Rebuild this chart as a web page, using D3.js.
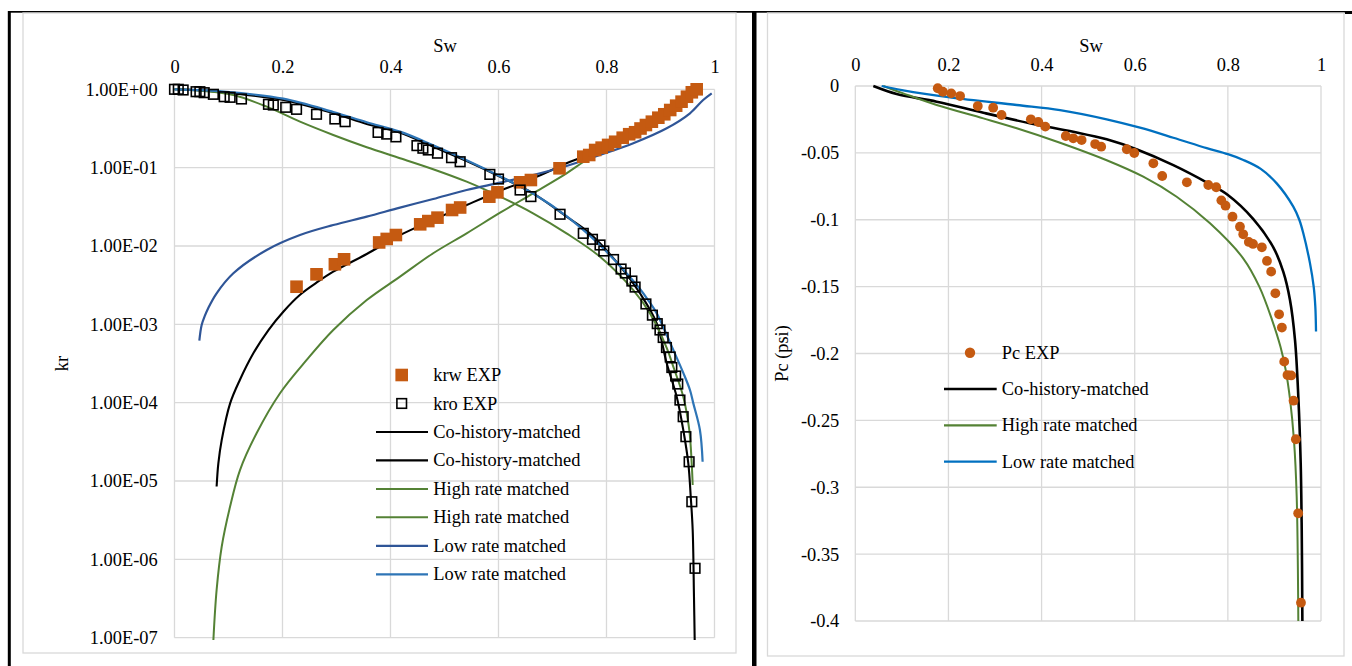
<!DOCTYPE html>
<html>
<head>
<meta charset="utf-8">
<script src="https://cdn.jsdelivr.net/npm/d3@7"></script>
<style>
  html, body { margin: 0; padding: 0; background: #fff; }
  svg { display: block; }
  text { font-family: "Liberation Serif", "Times New Roman", serif; font-size: 18.4px; fill: #000; }
</style>
</head>
<body>
<svg id="fig" width="1352" height="666"></svg>
<script>
// ---------- Relative permeability (left panel) ----------
const swTicks = [0, 0.2, 0.4, 0.6, 0.8, 1];
const swTickLabels = ["0", "0.2", "0.4", "0.6", "0.8", "1"];
const krTicks = [1, 1e-1, 1e-2, 1e-3, 1e-4, 1e-5, 1e-6, 1e-7];
const krTickLabels = ["1.00E+00", "1.00E-01", "1.00E-02", "1.00E-03", "1.00E-04", "1.00E-05", "1.00E-06", "1.00E-07"];

const krwExpSw = [0.226, 0.263, 0.297, 0.314, 0.379, 0.393, 0.410, 0.455, 0.470, 0.487,
  0.514, 0.529, 0.583, 0.598, 0.640, 0.660, 0.713, 0.757, 0.768, 0.779,
  0.791, 0.803, 0.816, 0.830, 0.842, 0.853, 0.863, 0.873, 0.884, 0.896,
  0.907, 0.918, 0.929, 0.939, 0.949, 0.958, 0.967];
const krwExp = [3.02e-3, 4.35e-3, 5.84e-3, 6.76e-3, 1.11e-2, 1.23e-2, 1.38e-2, 1.89e-2, 2.08e-2, 2.30e-2,
  2.88e-2, 3.10e-2, 4.26e-2, 4.84e-2, 6.50e-2, 6.95e-2, 9.81e-2, 0.138, 0.145, 0.168,
  0.180, 0.195, 0.214, 0.241, 0.267, 0.283, 0.316, 0.350, 0.386, 0.434,
  0.480, 0.544, 0.618, 0.695, 0.804, 0.916, 1.0];

const kroExpSw = [0, 0.007, 0.016, 0.040, 0.047, 0.055, 0.072, 0.092, 0.103, 0.124,
  0.174, 0.183, 0.206, 0.226, 0.263, 0.297, 0.316, 0.377, 0.393, 0.410,
  0.449, 0.460, 0.470, 0.487, 0.513, 0.529, 0.584, 0.600, 0.640, 0.660,
  0.714, 0.757, 0.774, 0.788, 0.795, 0.813, 0.827, 0.835, 0.847, 0.853,
  0.873, 0.885, 0.894, 0.899, 0.905, 0.911, 0.918, 0.921, 0.928, 0.932,
  0.936, 0.942, 0.947, 0.953, 0.958, 0.964];
const kroExp = [1.0, 1.0, 0.98, 0.932, 0.932, 0.905, 0.863, 0.804, 0.790, 0.752,
  0.643, 0.630, 0.589, 0.555, 0.480, 0.418, 0.386, 0.282, 0.268, 0.247,
  0.191, 0.177, 0.168, 0.153, 0.134, 0.119, 0.082, 0.0716, 0.0518, 0.0427,
  0.0254, 0.0145, 0.01217, 0.0103, 0.00863, 0.00672, 0.00508, 0.00452, 0.00357, 0.00299,
  0.00182, 0.00131, 0.00102, 8.47e-4, 6.79e-4, 5.06e-4, 3.83e-4, 2.81e-4, 2.19e-4, 1.73e-4,
  1.08e-4, 6.62e-5, 3.68e-5, 1.76e-5, 5.44e-6, 7.69e-7];

// fitted curves, [Sw, kr]
const coKrw = [[0.078, 8.5e-6], [0.0812, 1.68e-5], [0.0874, 3.33e-5], [0.103, 9.8e-5], [0.121, 1.95e-4],
  [0.146, 4.27e-4], [0.174, 8.45e-4], [0.2015, 1.45e-3], [0.232, 2.37e-3], [0.263, 3.40e-3],
  [0.294, 4.70e-3], [0.356, 7.91e-3], [0.418, 1.38e-2], [0.479, 2.15e-2], [0.541, 3.33e-2],
  [0.603, 5.08e-2], [0.664, 7.31e-2], [0.726, 0.1135], [0.757, 0.138], [0.80, 0.19],
  [0.85, 0.28], [0.90, 0.44], [0.94, 0.70], [0.967, 1.0]];
const coKro = [[0, 1.0], [0.05, 0.97], [0.109, 0.889], [0.2015, 0.729], [0.294, 0.494], [0.356, 0.361],
  [0.418, 0.279], [0.479, 0.185], [0.541, 0.1216], [0.603, 0.0766], [0.664, 0.047], [0.726, 0.0237],
  [0.769, 0.0145], [0.831, 0.00493], [0.862, 0.00249], [0.893, 0.00103], [0.9115, 3.18e-4],
  [0.930, 1.19e-4], [0.9422, 4.48e-5], [0.9515, 1.68e-5], [0.956, 6.3e-6], [0.9596, 2.37e-6],
  [0.962, 3.33e-7], [0.9635, 7.9e-8]];
const highKrw = [[0.072, 9.3e-8], [0.078, 4.07e-7], [0.0874, 1.45e-6], [0.1028, 4.68e-6], [0.1213, 1.38e-5],
  [0.152, 4.07e-5], [0.1954, 1.32e-4], [0.2448, 3.51e-4], [0.294, 8.45e-4], [0.356, 2.04e-3],
  [0.4176, 4.06e-3], [0.479, 8.07e-3], [0.541, 1.45e-2], [0.603, 2.66e-2], [0.664, 4.70e-2],
  [0.726, 8.47e-2], [0.757, 0.118], [0.80, 0.18], [0.861, 0.33], [0.90, 0.47], [0.94, 0.72], [0.96, 0.93]];
const highKro = [[0, 1.0], [0.05, 0.955], [0.109, 0.845], [0.1707, 0.60], [0.2324, 0.386], [0.294, 0.261],
  [0.356, 0.182], [0.4176, 0.132], [0.479, 0.0955], [0.541, 0.0662], [0.603, 0.0426], [0.664, 0.0261],
  [0.726, 0.0145], [0.788, 7.29e-3], [0.8496, 2.74e-3], [0.8806, 1.38e-3], [0.9115, 5.0e-4],
  [0.9237, 2.88e-4], [0.9422, 1.19e-4], [0.9533, 4.48e-5], [0.9578, 1.68e-5], [0.9596, 8.9e-6]];
const lowKrw = [[0.046, 6.2e-4], [0.0503, 9.8e-4], [0.0565, 1.3e-3], [0.0626, 1.62e-3], [0.078, 2.49e-3], [0.109, 4.48e-3],
  [0.1707, 8.89e-3], [0.2324, 1.38e-2], [0.294, 1.85e-2], [0.356, 2.37e-2], [0.4176, 3.09e-2],
  [0.479, 3.98e-2], [0.541, 5.19e-2], [0.603, 6.43e-2], [0.664, 8.05e-2], [0.726, 0.105],
  [0.788, 0.145], [0.8496, 0.205], [0.9115, 0.318], [0.9546, 0.494], [0.979, 0.73], [0.9948, 0.889]];
const lowKro = [[0, 1.0], [0.05, 0.975], [0.109, 0.912], [0.2015, 0.759], [0.294, 0.513], [0.356, 0.380],
  [0.4176, 0.288], [0.479, 0.193], [0.541, 0.1245], [0.603, 0.0776], [0.664, 0.0468], [0.726, 0.024],
  [0.788, 0.0102], [0.831, 5.01e-3], [0.862, 2.82e-3], [0.877, 2.04e-3], [0.893, 1.38e-3],
  [0.9237, 4.7e-4], [0.9422, 2.4e-4], [0.9546, 1.45e-4], [0.9608, 9.8e-5], [0.973, 4.48e-5], [0.978, 1.76e-5]];

// ---------- Capillary pressure (right panel) ----------
const pcTicks = [0, -0.05, -0.1, -0.15, -0.2, -0.25, -0.3, -0.35, -0.4];
const pcTickLabels = ["0", "-0.05", "-0.1", "-0.15", "-0.2", "-0.25", "-0.3", "-0.35", "-0.4"];

const pcExpSw = [0.177, 0.188, 0.206, 0.225, 0.263, 0.296, 0.314, 0.377, 0.393, 0.408,
  0.452, 0.468, 0.486, 0.515, 0.528, 0.583, 0.599, 0.640, 0.659, 0.712,
  0.758, 0.775, 0.786, 0.795, 0.810, 0.826, 0.833, 0.845, 0.854, 0.873,
  0.884, 0.893, 0.902, 0.910, 0.916, 0.921, 0.928, 0.936, 0.941, 0.946,
  0.951, 0.957];
const pcExp = [-0.0017, -0.0043, -0.0055, -0.0075, -0.0150, -0.0162, -0.0217, -0.0249, -0.0269, -0.0304,
  -0.0374, -0.0391, -0.0404, -0.0434, -0.0454, -0.0473, -0.0501, -0.0578, -0.0673, -0.0720,
  -0.0740, -0.0757, -0.0855, -0.0895, -0.0977, -0.1052, -0.1109, -0.1166, -0.1181, -0.1206,
  -0.1308, -0.1388, -0.1550, -0.1707, -0.1806, -0.2061, -0.2161, -0.2164, -0.2353, -0.2641,
  -0.3195, -0.3863];

const coPc = [[0.0387, 0], [0.0888, -0.006], [0.1747, -0.0117], [0.2749, -0.020], [0.3822, -0.0284],
  [0.4681, -0.0342], [0.5398, -0.0399], [0.605, -0.0475], [0.6829, -0.0592], [0.758, -0.0728],
  [0.8, -0.0815], [0.8547, -0.0995], [0.8976, -0.1206], [0.9191, -0.139], [0.9334, -0.160],
  [0.9442, -0.190], [0.9513, -0.2323], [0.9564, -0.2821], [0.9586, -0.332], [0.96, -0.40]];
const highPc = [[0.06, 0], [0.103, -0.0055], [0.1747, -0.0142], [0.2749, -0.0242], [0.3466, -0.0316],
  [0.4396, -0.0424], [0.5398, -0.0555], [0.6184, -0.0678], [0.6901, -0.0828], [0.7617, -0.1027],
  [0.8332, -0.1290], [0.8675, -0.150], [0.8950, -0.175], [0.9130, -0.195], [0.9240, -0.212],
  [0.9334, -0.234], [0.942, -0.265], [0.9478, -0.3071], [0.9513, -0.40]];
const lowPc = [[0.0566, 0], [0.1, -0.003], [0.2033, -0.0085], [0.3466, -0.0142], [0.4396, -0.018],
  [0.5398, -0.0249], [0.6113, -0.0312], [0.6829, -0.0387], [0.7546, -0.0465], [0.8, -0.051],
  [0.8332, -0.0553], [0.8706, -0.062], [0.9049, -0.0728], [0.9405, -0.0902], [0.9534, -0.1],
  [0.962, -0.1101], [0.9764, -0.1326], [0.9843, -0.150], [0.9878, -0.165], [0.9893, -0.1835]];

// ---------- colours ----------
const ORANGE = "#c55a11", BLACK = "#000000", GREEN = "#548235", NAVY = "#2f5597", BLUE_L = "#2e75b6", BLUE_R = "#0070c0";
const GRID = "#d9d9d9";

const svg = d3.select("#fig");

// table cell borders
svg.append("rect").attr("x", 8).attr("y", 11).attr("width", 1344).attr("height", 1.7).attr("fill", "#000");
svg.append("rect").attr("x", 7.8).attr("y", 11).attr("width", 3).attr("height", 655).attr("fill", "#000");
svg.append("rect").attr("x", 752).attr("y", 11).attr("width", 4.5).attr("height", 655).attr("fill", "#000");
svg.append("rect").attr("x", 1345).attr("y", 11).attr("width", 7).attr("height", 3).attr("fill", "#000");

function frame(x0, y0, x1, y1) {
  svg.append("rect").attr("x", x0).attr("y", y0).attr("width", x1 - x0).attr("height", y1 - y0)
    .attr("fill", "#fff").attr("stroke", GRID).attr("stroke-width", 1.3);
}

function grid(g, x, y, xt, yt) {
  const [xa, xb] = x.range(), [ya, yb] = y.range();
  g.selectAll(null).data(xt).join("line")
    .attr("x1", d => x(d)).attr("x2", d => x(d)).attr("y1", ya).attr("y2", yb)
    .attr("stroke", GRID).attr("stroke-width", 1.3);
  g.selectAll(null).data(yt).join("line")
    .attr("y1", d => y(d)).attr("y2", d => y(d)).attr("x1", xa).attr("x2", xb)
    .attr("stroke", GRID).attr("stroke-width", 1.3);
}

const smooth = d3.curveCatmullRom.alpha(0.5);

// ===================== left panel =====================
frame(23, 13, 736, 653);
const xL = d3.scaleLinear().domain([0, 1]).range([174.5, 714.5]);
const yL = d3.scaleLog().domain([1e-7, 1]).range([637.7, 89.3]);
const gL = svg.append("g");
grid(gL, xL, yL, swTicks, krTicks);

gL.append("g").attr("transform", `translate(0,${yL(1)})`)
  .call(d3.axisTop(xL).tickValues(swTicks).tickFormat((d, i) => swTickLabels[i]).tickSize(0).tickPadding(16.5))
  .call(a => a.select(".domain").remove());
gL.append("g").attr("transform", `translate(${xL(0)},0)`)
  .call(d3.axisLeft(yL).tickValues(krTicks).tickFormat((d, i) => krTickLabels[i]).tickSize(0).tickPadding(16.8))
  .call(a => a.select(".domain").remove());

gL.append("text").attr("x", 445).attr("y", 51.7).attr("text-anchor", "middle").text("Sw");
gL.append("text").attr("transform", "translate(68,363.5) rotate(-90)").attr("text-anchor", "middle").text("kr");

svg.append("clipPath").attr("id", "clipL").append("rect")
  .attr("x", 170).attr("y", 84).attr("width", 550).attr("height", 556);

const lineL = d3.line().x(d => xL(d[0])).y(d => yL(d[1])).curve(smooth);
const curvesL = [
  { data: coKrw, color: BLACK, w: 2.1 },
  { data: coKro, color: BLACK, w: 2.1 },
  { data: highKrw, color: GREEN, w: 2 },
  { data: highKro, color: GREEN, w: 2 },
  { data: lowKrw, color: NAVY, w: 2.2 },
  { data: lowKro, color: BLUE_L, w: 2.2 }
];
const gLines = gL.append("g").attr("clip-path", "url(#clipL)");
curvesL.forEach(c => gLines.append("path").attr("d", lineL(c.data))
  .attr("fill", "none").attr("stroke", c.color).attr("stroke-width", c.w).attr("stroke-linejoin", "round"));

// experimental markers
gL.append("g").selectAll("rect").data(d3.zip(krwExpSw, krwExp)).join("rect")
  .attr("x", d => xL(d[0]) - 6.3).attr("y", d => yL(d[1]) - 6.3)
  .attr("width", 12.6).attr("height", 12.6).attr("fill", ORANGE);
gL.append("g").selectAll("rect").data(d3.zip(kroExpSw, kroExp)).join("rect")
  .attr("x", d => xL(d[0]) - 4.8).attr("y", d => yL(d[1]) - 4.8)
  .attr("width", 9.6).attr("height", 9.6).attr("fill", "none").attr("stroke", BLACK).attr("stroke-width", 1.6);

// legend
const legL = [
  { label: "krw EXP", type: "fsq", color: ORANGE },
  { label: "kro EXP", type: "osq", color: BLACK },
  { label: "Co-history-matched", type: "line", color: BLACK, w: 2.1 },
  { label: "Co-history-matched", type: "line", color: BLACK, w: 2.1 },
  { label: "High rate matched", type: "line", color: GREEN, w: 2 },
  { label: "High rate matched", type: "line", color: GREEN, w: 2 },
  { label: "Low rate matched", type: "line", color: NAVY, w: 2.2 },
  { label: "Low rate matched", type: "line", color: BLUE_L, w: 2.2 }
];
const legLY = d3.scaleLinear().domain([0, 7]).range([375, 574.3]);
legL.forEach((e, i) => {
  const y = legLY(i);
  const g = gL.append("g");
  if (e.type === "line") {
    g.append("line").attr("x1", 376).attr("x2", 428).attr("y1", y).attr("y2", y)
      .attr("stroke", e.color).attr("stroke-width", e.w);
  } else if (e.type === "fsq") {
    g.append("rect").attr("x", 401.7 - 6.3).attr("y", y - 6.3).attr("width", 12.6).attr("height", 12.6).attr("fill", e.color);
  } else {
    g.append("rect").attr("x", 401.7 - 4.8).attr("y", y - 4.8).attr("width", 9.6).attr("height", 9.6)
      .attr("fill", "none").attr("stroke", e.color).attr("stroke-width", 1.6);
  }
  g.append("text").attr("x", 433.3).attr("y", y).attr("dy", "0.33em").text(e.label);
});

// ===================== right panel =====================
frame(767.5, 13, 1344, 656);
const xR = d3.scaleLinear().domain([0, 1]).range([855.3, 1321]);
const yR = d3.scaleLinear().domain([-0.4, 0]).range([621, 86]);
const gR = svg.append("g");
grid(gR, xR, yR, swTicks, pcTicks);

gR.append("g").attr("transform", `translate(0,${yR(0)})`)
  .call(d3.axisTop(xR).tickValues(swTicks).tickFormat((d, i) => swTickLabels[i]).tickSize(0).tickPadding(15.5))
  .call(a => a.select(".domain").remove());
gR.append("g").attr("transform", `translate(${xR(0)},0)`)
  .call(d3.axisLeft(yR).tickValues(pcTicks).tickFormat((d, i) => pcTickLabels[i]).tickSize(0).tickPadding(16))
  .call(a => a.select(".domain").remove());

gR.append("text").attr("x", 1091).attr("y", 51.7).attr("text-anchor", "middle").text("Sw");
gR.append("text").attr("transform", "translate(787.5,353.5) rotate(-90)").attr("text-anchor", "middle").text("Pc (psi)");

svg.append("clipPath").attr("id", "clipR").append("rect")
  .attr("x", 850).attr("y", 80).attr("width", 480).attr("height", 542);

const lineR = d3.line().x(d => xR(d[0])).y(d => yR(d[1])).curve(smooth);
const curvesR = [
  { data: coPc, color: BLACK, w: 2.6 },
  { data: highPc, color: GREEN, w: 2 },
  { data: lowPc, color: BLUE_R, w: 2.3 }
];
const gLinesR = gR.append("g").attr("clip-path", "url(#clipR)");
curvesR.forEach(c => gLinesR.append("path").attr("d", lineR(c.data))
  .attr("fill", "none").attr("stroke", c.color).attr("stroke-width", c.w).attr("stroke-linejoin", "round"));

gR.append("g").selectAll("circle").data(d3.zip(pcExpSw, pcExp)).join("circle")
  .attr("cx", d => xR(d[0])).attr("cy", d => yR(d[1])).attr("r", 4.9).attr("fill", ORANGE);

const legR = [
  { label: "Pc EXP", type: "dot", color: ORANGE },
  { label: "Co-history-matched", type: "line", color: BLACK, w: 2.6 },
  { label: "High rate matched", type: "line", color: GREEN, w: 2.2 },
  { label: "Low rate matched", type: "line", color: BLUE_R, w: 2.3 }
];
const legRY = d3.scaleLinear().domain([0, 3]).range([352.7, 461.7]);
legR.forEach((e, i) => {
  const y = legRY(i);
  const g = gR.append("g");
  if (e.type === "line") {
    g.append("line").attr("x1", 944).attr("x2", 996.7).attr("y1", y).attr("y2", y)
      .attr("stroke", e.color).attr("stroke-width", e.w);
  } else {
    g.append("circle").attr("cx", 970).attr("cy", y).attr("r", 5.2).attr("fill", e.color);
  }
  g.append("text").attr("x", 1001.7).attr("y", y).attr("dy", "0.33em").text(e.label);
});
</script>
</body>
</html>
